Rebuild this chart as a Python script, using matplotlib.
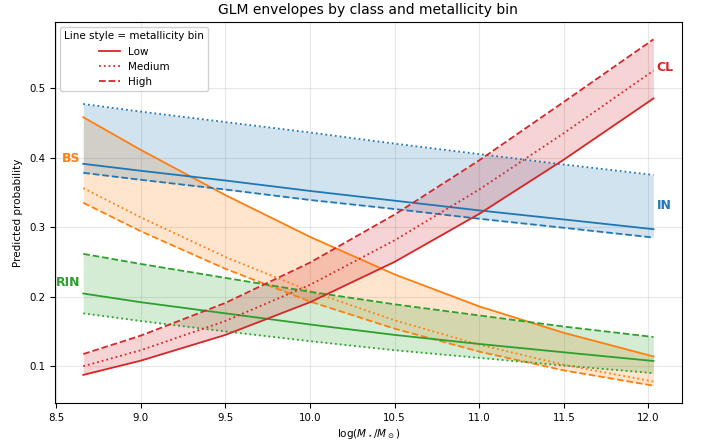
import matplotlib
matplotlib.use("Agg")
import matplotlib.pyplot as plt
import numpy as np

# log stellar mass grid
logm = [8.66, 9.0, 9.5, 10.0, 10.5, 11.0, 11.5, 12.03]

# predicted probabilities per class, per metallicity bin
bs_low = [0.458, 0.411, 0.346, 0.286, 0.232, 0.186, 0.148, 0.114]
bs_med = [0.356, 0.314, 0.257, 0.208, 0.166, 0.131, 0.102, 0.078]
bs_high = [0.335, 0.294, 0.240, 0.193, 0.154, 0.121, 0.094, 0.072]

in_low = [0.391, 0.381, 0.367, 0.352, 0.338, 0.324, 0.311, 0.297]
in_med = [0.477, 0.466, 0.451, 0.436, 0.420, 0.405, 0.390, 0.375]
in_high = [0.378, 0.368, 0.354, 0.339, 0.326, 0.312, 0.299, 0.285]

rin_low = [0.2045, 0.192, 0.176, 0.160, 0.145, 0.132, 0.120, 0.1075]
rin_med = [0.176, 0.165, 0.150, 0.136, 0.123, 0.112, 0.101, 0.090]
rin_high = [0.2615, 0.247, 0.227, 0.207, 0.189, 0.173, 0.157, 0.142]

cl_low = [0.0875, 0.108, 0.145, 0.192, 0.250, 0.319, 0.397, 0.485]
cl_med = [0.100, 0.123, 0.165, 0.217, 0.281, 0.354, 0.435, 0.525]
cl_high = [0.1175, 0.144, 0.191, 0.249, 0.318, 0.396, 0.480, 0.570]

classes = ["BS", "IN", "RIN", "CL"]
colors = {"BS": "tab:orange", "IN": "tab:blue", "RIN": "tab:green", "CL": "tab:red"}
curves = {
    "BS": [bs_low, bs_med, bs_high],
    "IN": [in_low, in_med, in_high],
    "RIN": [rin_low, rin_med, rin_high],
    "CL": [cl_low, cl_med, cl_high],
}
bins = ["Low", "Medium", "High"]
styles = ["-", ":", "--"]

# where the class names sit (x, y, alignment)
label_pos = {
    "BS": (8.64, 0.398, "right"),
    "RIN": (8.64, 0.220, "right"),
    "IN": (12.05, 0.331, "left"),
    "CL": (12.05, 0.529, "left"),
}

fig = plt.figure(figsize=(7.02, 4.46), dpi=100)
ax = fig.add_axes([0.078, 0.0964, 0.8935, 0.8543])

x = np.array(logm)
for c in classes:
    ys = np.array(curves[c])
    ax.fill_between(x, ys.min(axis=0), ys.max(axis=0), color=colors[c], alpha=0.2, linewidth=0)
    for y, ls in zip(ys, styles):
        ax.plot(x, y, color=colors[c], linestyle=ls, linewidth=1.3)
    lx, ly, ha = label_pos[c]
    ax.text(lx, ly, c, color=colors[c], fontsize=9, fontweight="bold", ha=ha, va="center")

# legend only shows line style
handles = [plt.Line2D([], [], color="tab:red", linestyle=ls, linewidth=1.3) for ls in styles]
ax.legend(handles, bins, title="Line style = metallicity bin", loc="upper left",
          fontsize=7.5, title_fontsize=7.5, framealpha=0.9)

ax.grid(True, alpha=0.3)
ax.set_axisbelow(True)
ax.tick_params(labelsize=7.4)
ax.set_xlabel(r"$\log(M_\star/M_\odot)$", fontsize=7.5, labelpad=3)
ax.set_ylabel("Predicted probability", fontsize=7.5)
ax.set_title("GLM envelopes by class and metallicity bin", fontsize=10)

fig.savefig("out.png", dpi=100)
